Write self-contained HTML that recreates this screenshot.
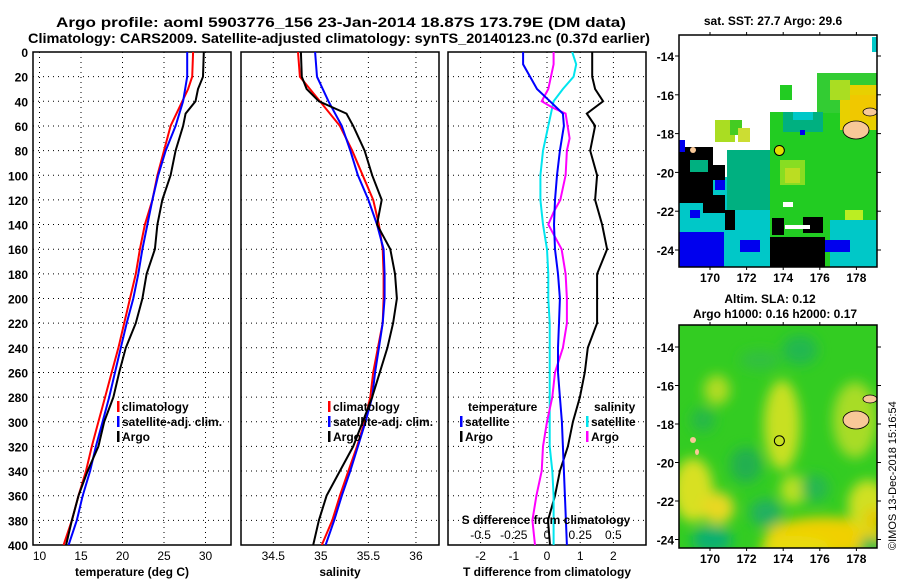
<!DOCTYPE html>
<html><head><meta charset="utf-8"><style>
html,body{margin:0;padding:0;background:#fff;}
svg{display:block;font-family:"Liberation Sans",Arial,sans-serif;font-weight:bold;}
</style></head><body>
<svg id="fig" width="900" height="580" viewBox="0 0 900 580" xmlns="http://www.w3.org/2000/svg">
<defs>
<clipPath id="c1"><rect x="33" y="52" width="198" height="493"/></clipPath>
<clipPath id="c2"><rect x="241" y="52" width="198" height="493"/></clipPath>
<clipPath id="c3"><rect x="448" y="52" width="198" height="493"/></clipPath>
<clipPath id="cm1"><rect x="679" y="35" width="198" height="232"/></clipPath>
<clipPath id="cm2"><rect x="679" y="325" width="198" height="223"/></clipPath>
<filter id="blur" x="-50%" y="-50%" width="200%" height="200%"><feGaussianBlur stdDeviation="6"/></filter>
</defs>
<text x="56" y="27" font-size="14" textLength="570" lengthAdjust="spacingAndGlyphs">Argo profile: aoml 5903776_156 23-Jan-2014 18.87S 173.79E (DM data)</text>
<text x="28" y="43" font-size="14" textLength="622" lengthAdjust="spacingAndGlyphs">Climatology: CARS2009. Satellite-adjusted climatology: synTS_20140123.nc (0.37d earlier)</text>
<g id="panels"></g>
<g id="maps"></g>
<text x="773" y="25" font-size="12" text-anchor="middle">sat. SST: 27.7 Argo: 29.6</text>
<text x="770" y="303" font-size="12" text-anchor="middle">Altim. SLA: 0.12</text>
<text x="775" y="318" font-size="12" text-anchor="middle">Argo h1000: 0.16 h2000: 0.17</text>
<text transform="translate(896,550) rotate(-90)" font-size="11" font-weight="normal">©IMOS 13-Dec-2018 15:16:54</text>
</svg>
<script>
// ---- data ----
const tDepthRed = [0,20,30,40,60,80,100,120,140,160,180,200,220,240,260,280,300,320,340,360,380,400];
const tempClim = [28.5,28.4,27.9,27.2,25.8,25.0,24.2,23.6,22.7,22.1,21.6,20.9,20.2,19.5,18.7,17.9,17.1,16.3,15.6,14.7,13.9,12.9];
const tDepthBlue = [0,20,40,60,80,100,120,140,160,180,200,220,240,260,280,300,320,340,360,380,400];
const tempSat = [27.8,27.8,27.3,26.4,25.2,24.3,23.6,23.0,22.4,21.9,21.3,20.5,19.8,19.1,18.4,17.6,16.8,16.1,15.2,14.5,13.5];
const tDepthArgo = [0,20,30,40,50,60,80,100,120,140,160,180,200,220,240,260,280,300,320,340,360,380,400];
const tempArgo = [29.8,29.7,29.1,28.8,27.6,27.3,26.4,25.8,24.8,24.2,23.9,22.9,22.4,21.6,20.4,19.6,18.9,17.8,17.1,15.8,14.7,13.9,13.2];

const sDepth = [0,20,40,60,80,100,120,140,160,180,200,220,240,260,280,300,320,340,360,380,400];
const salClim = [34.76,34.78,34.99,35.20,35.33,35.44,35.55,35.61,35.65,35.66,35.66,35.65,35.60,35.55,35.52,35.46,35.38,35.29,35.20,35.12,35.01];
const salSat = [34.94,34.96,35.08,35.22,35.31,35.39,35.50,35.59,35.66,35.67,35.67,35.65,35.61,35.57,35.54,35.47,35.39,35.31,35.22,35.14,35.05];
const sDepthArgo = [0,20,30,40,50,60,80,100,120,140,160,180,200,220,240,260,280,300,320,340,360,380,400];
const salArgo = [34.79,34.80,34.85,34.98,35.27,35.34,35.46,35.54,35.64,35.59,35.73,35.78,35.80,35.76,35.70,35.62,35.54,35.44,35.34,35.20,35.06,34.98,34.92];

const dDepthTSat = [0,10,20,30,40,50,60,80,100,120,140,160,180,200,220,240,260,280,300,320,340,360,380,400];
const dTSat = [-0.72,-0.72,-0.51,-0.30,0.09,0.48,0.51,0.39,0.30,0.24,0.21,0.24,0.33,0.39,0.36,0.33,0.33,0.39,0.45,0.48,0.51,0.54,0.57,0.60];
const dDepthTArgo = [0,20,30,40,50,60,80,100,120,140,160,180,200,220,240,260,280,300,320,340,360,380,400];
const dTArgo = [1.36,1.36,1.45,1.69,1.20,1.45,1.30,1.51,1.45,1.66,1.81,1.51,1.51,1.51,1.23,1.14,0.99,0.78,0.63,0.39,0.24,0.03,0.09];
const dDepthSSat = [0,10,20,30,40,60,80,100,120,140,160,180,200,220,240,260,280,300,320,340,360,380,400];
const dSSat = [0.19,0.22,0.20,0.12,0.05,0.01,-0.03,-0.05,-0.05,-0.03,0,0.01,0.01,0.02,0.02,0.02,0.02,0.02,0.02,0.04,0.05,0.05,0.05];
const dDepthSArgo = [0,10,30,40,45,50,70,80,100,120,130,140,160,180,200,220,240,260,280,300,320,340,360,380,400];
const dSArgo = [0.05,0.05,0.01,-0.04,0.04,0.14,0.17,0.15,0.14,0.10,0.05,0.01,0.11,0.14,0.15,0.15,0.12,0.06,0.04,0,-0.03,-0.04,-0.08,-0.11,-0.09];

const depthTicks = [0,20,40,60,80,100,120,140,160,180,200,220,240,260,280,300,320,340,360,380,400];
const tempTicks = [10,15,20,25,30];
const salTicks = [34.5,35,35.5,36];
const salTickLabels = ["34.5","35","35.5","36"];
const dTTicks = [-2,-1,0,1,2];
const dSTicks = [-0.5,-0.25,0,0.25,0.5];
const dSTickLabels = ["-0.5","-0.25","0","0.25","0.5"];
const lonTicks = [170,172,174,176,178];
const latTicks = [-14,-16,-18,-20,-22,-24];

// ---- scales ----
const yD = d => 52 + d*1.2325;
const xT = t => 39.5 + (t-10)*8.3;
const xS = s => 273.3 + (s-34.5)*95.1;
const xDT = v => 547 + v*33.2;
const xDS = v => 547 + v*132.8;
const lonX = l => 710 + (l-170)*18.3;
const latY1 = l => 56 + (-14-l)*19.4;
const latY2 = l => 347 + (-14-l)*19.25;

const NS = "http://www.w3.org/2000/svg";
function el(tag, attrs, parent){const e=document.createElementNS(NS,tag);for(const k in attrs)e.setAttribute(k,attrs[k]);parent.appendChild(e);return e;}
const P = document.getElementById('panels');

function panel(x0, name, xs, ticks, labels, xtitle, clip, showY){
  const g = el('g',{},P);
  
  
  depthTicks.forEach(d=>{
    const l = el('line',{x1:x0,x2:x0+198,y1:yD(d),y2:yD(d),stroke:'#000','stroke-width':1,'stroke-dasharray':'1 4'},g);
    
    
    if(showY){
      const t = el('text',{x:28,y:yD(d)+5,'font-size':12,'text-anchor':'end'},g);
      t.textContent = d;
      
      
    }
  });
  ticks.forEach((v,i)=>{
    const l = el('line',{x1:xs(v),x2:xs(v),y1:52,y2:545,stroke:'#000','stroke-width':1,'stroke-dasharray':'1 4'},g);
    
    
    const t = el('text',{x:xs(v),y:560,'font-size':12,'text-anchor':'middle','font-weight':'normal'},g);
    t.textContent = labels[i];
    
    
  });
  const r = el('rect',{x:x0,y:52,width:198,height:493,fill:'none',stroke:'#000','stroke-width':1.5},g);
  
  
  const tt = el('text',{x:x0+99,y:576,'font-size':12,'text-anchor':'middle'},g);
  tt.textContent = xtitle;
  
  
  return g;
}
function series(g, xs, vals, depths, color, clip, name){
  const pts = vals.map((v,i)=>xs(v).toFixed(1)+','+yD(depths[i]).toFixed(1)).join(' ');
  const p = el('polyline',{points:pts,fill:'none',stroke:color,'stroke-width':2,'clip-path':'url(#'+clip+')'},g);
  
  
}
function legend(g, x, y, color, label){
  const b = el('rect',{x:x,y:y-9,width:2.5,height:11,fill:color},g);
  
  
  const t = el('text',{x:x+5,y:y+1,'font-size':12},g);
  t.textContent = label;
  
  
}

const g1 = panel(33,'temperature',xT,tempTicks,tempTicks.map(String),'temperature (deg C)','c1',true);
series(g1,xT,tempClim,tDepthRed,'#ff0000','c1','temp-climatology-line');
series(g1,xT,tempSat,tDepthBlue,'#0000ff','c1','temp-satellite-line');
series(g1,xT,tempArgo,tDepthArgo,'#000000','c1','temp-argo-line');
legend(g1,117,410,'#ff0000','climatology');
legend(g1,117,425,'#0000ff','satellite-adj. clim.');
legend(g1,117,440,'#000','Argo');

const g2 = panel(241,'salinity',xS,salTicks,salTickLabels,'salinity','c2',false);
series(g2,xS,salClim,sDepth,'#ff0000','c2','sal-climatology-line');
series(g2,xS,salSat,sDepth,'#0000ff','c2','sal-satellite-line');
series(g2,xS,salArgo,sDepthArgo,'#000000','c2','sal-argo-line');
legend(g2,328,410,'#ff0000','climatology');
legend(g2,328,425,'#0000ff','satellite-adj. clim.');
legend(g2,328,440,'#000','Argo');

const g3 = panel(448,'difference',xDT,dTTicks,dTTicks.map(String),'T difference from climatology','c3',false);
series(g3,xDT,dTArgo,dDepthTArgo,'#000000','c3','tdiff-argo-line');
series(g3,xDS,dSSat,dDepthSSat,'#00e5ee','c3','sdiff-satellite-line');
series(g3,xDS,dSArgo,dDepthSArgo,'#ff00ff','c3','sdiff-argo-line');
series(g3,xDT,dTSat,dDepthTSat,'#0000ff','c3','tdiff-satellite-line');
{
  const t = el('text',{x:468,y:411,'font-size':12},g3); t.textContent='temperature';
   
  const s = el('text',{x:594,y:411,'font-size':12},g3); s.textContent='salinity';
   
  const st = el('text',{x:546,y:524,'font-size':12,'text-anchor':'middle'},g3); st.textContent='S difference from climatology';
   
  dSTicks.forEach((v,i)=>{
    const tl = el('text',{x:xDS(v),y:539,'font-size':12,'text-anchor':'middle','font-weight':'normal'},g3);
    tl.textContent = dSTickLabels[i];
     
  });
}
legend(g3,460,425,'#0000ff','satellite');
legend(g3,460,440,'#000','Argo');
legend(g3,586,425,'#00e5ee','satellite');
legend(g3,586,440,'#ff00ff','Argo');

// ---- maps ----
const M = document.getElementById('maps');
function mapFrame(y0,h,latY,name){
  const g = el('g',{},M);
  
  
  const r = el('rect',{x:679,y:y0,width:198,height:h,fill:'none',stroke:'#000','stroke-width':1.5},g);
   
  lonTicks.forEach(l=>{
    el('line',{x1:lonX(l),x2:lonX(l),y1:y0-3,y2:y0,stroke:'#000'},g);
    el('line',{x1:lonX(l),x2:lonX(l),y1:y0+h,y2:y0+h+3,stroke:'#000'},g);
    const t = el('text',{x:lonX(l),y:y0+h+15,'font-size':12,'text-anchor':'middle'},g);
    t.textContent = l;
     
  });
  latTicks.forEach(l=>{
    el('line',{x1:675,x2:679,y1:latY(l),y2:latY(l),stroke:'#000'},g);
    el('line',{x1:877,x2:881,y1:latY(l),y2:latY(l),stroke:'#000'},g);
    const t = el('text',{x:674,y:latY(l)+5,'font-size':12,'text-anchor':'end'},g);
    t.textContent = l;
     
  });
}
// SST map image approximation
const sst = el('g',{'clip-path':'url(#cm1)'},M);


[
 ['#00c8c8',679,177,158,90],['#00c8c8',745,160,60,20],['#00b080',727,150,110,60],
 ['#22cc22',770,112,107,155],['#33cc33',817,73,60,40],['#00b080',783,112,40,20],['#00c8c8',793,112,20,8],
 ['#88dd22',780,160,25,25],['#bbdd22',785,168,15,15],['#bbee22',845,210,18,25],['#00c8c8',830,220,47,47],
 ['#e8d000',840,85,37,45],['#f0c800',850,95,27,25],['#aadd22',830,80,20,20],
 ['#aadd22',715,120,20,22],['#44cc22',730,120,12,15],['#ccdd33',738,128,12,14],
 ['#22cc22',780,85,12,15],['#00c8c8',872,37,5,15],
 ['#000',679,147,34,56],['#000',713,165,12,15],['#000',703,195,22,18],['#000',770,237,55,30],['#000',803,217,20,16],['#000',772,218,12,17],['#000',725,210,10,20],
 ['#0000ee',679,232,45,35],['#0000ee',679,140,6,12],['#0000ee',715,180,10,10],['#0000ee',740,240,20,12],['#0000ee',825,240,25,12],['#0000ee',690,210,10,8],['#0000ee',800,130,5,5],
 ['#00b080',690,160,18,12],['#fff',783,202,10,5],['#fff',785,225,25,4]
].forEach(r=>{const e=el('rect',{x:r[1],y:r[2],width:r[3],height:r[4],fill:r[0]},sst);
  });
el('ellipse',{cx:856,cy:130,rx:13,ry:9,fill:'#f8c898',stroke:'#000','stroke-width':0.8},sst);
el('ellipse',{cx:870,cy:112,rx:7,ry:4,fill:'#f8c898',stroke:'#000','stroke-width':0.8},sst);
el('ellipse',{cx:693,cy:150,rx:3,ry:3,fill:'#f8c898'},sst);
const c1 = el('circle',{cx:lonX(173.79),cy:latY1(-18.87),r:5,fill:'#e0e000',stroke:'#000','stroke-width':1},sst);
 
mapFrame(35,232,latY1,'sst-map');

// SLA map approximation
const sla = el('g',{'clip-path':'url(#cm2)'},M);


el('rect',{x:679,y:325,width:198,height:223,fill:'#33cc22'},sla);
const blobs = el('g',{filter:'url(#blur)'},sla);
[
 ['#d8e020',693,490,20,32],['#e8d820',718,508,16,16],['#f0d000',825,537,60,20],['#e8dc10',795,548,35,12],
 ['#c8e020',782,425,18,45],['#b0dc20',717,390,13,15],['#b8e020',793,490,13,15],['#a8dc28',855,420,22,38],
 ['#d0e020',868,505,20,25],['#e8c800',874,518,10,10],
 ['#10b070',712,540,20,14],['#20b060',766,513,16,14],['#22b850',800,350,18,15],['#22b050',746,465,16,18],
 ['#28b848',703,420,12,12],['#28b850',815,488,14,14],['#30c040',760,360,20,10],['#20b850',870,545,10,8]
].forEach(b=>{const e=el('ellipse',{cx:b[1],cy:b[2],rx:b[3],ry:b[4],fill:b[0]},blobs);
  });
el('ellipse',{cx:856,cy:420,rx:13,ry:9,fill:'#f8c898',stroke:'#000','stroke-width':0.8},sla);
el('ellipse',{cx:870,cy:399,rx:7,ry:4,fill:'#f8c898',stroke:'#000','stroke-width':0.8},sla);
el('ellipse',{cx:693,cy:440,rx:3,ry:3,fill:'#f8c898'},sla);
el('ellipse',{cx:697,cy:452,rx:2,ry:3,fill:'#f8c898'},sla);
const c2 = el('circle',{cx:lonX(173.79),cy:latY2(-18.87),r:5,fill:'none',stroke:'#000','stroke-width':1},sla);
 
mapFrame(325,223,latY2,'sla-map');
</script>
</body></html>
